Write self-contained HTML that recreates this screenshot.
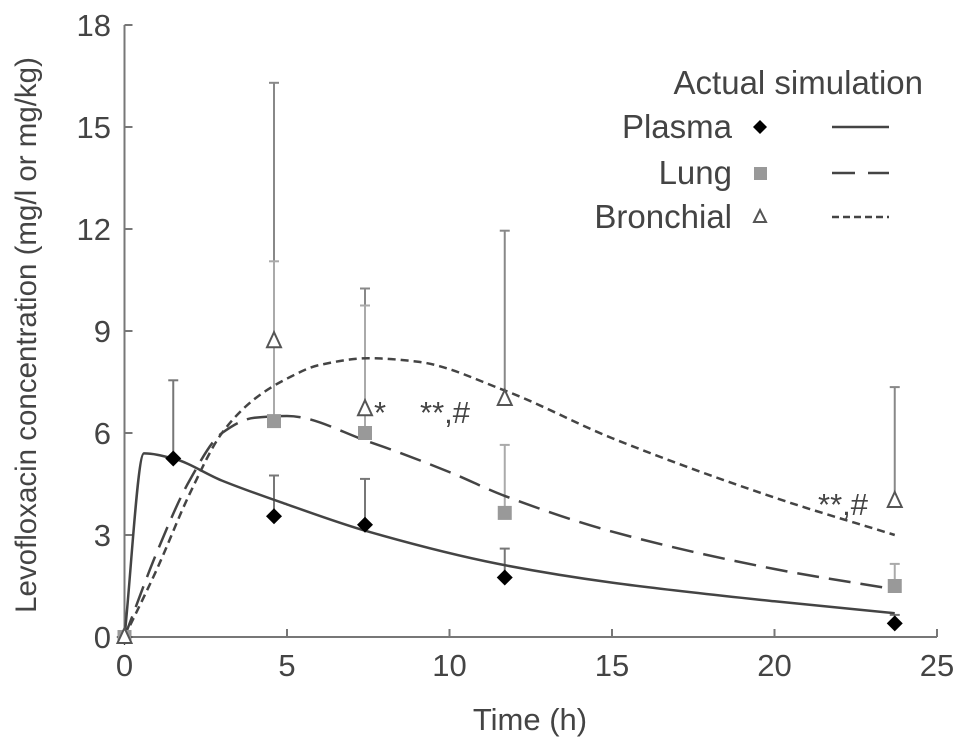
<!DOCTYPE html>
<html><head><meta charset="utf-8"><style>
body{margin:0;background:#fff}
svg text{font-family:"Liberation Sans",sans-serif;fill:#444}
</style></head><body>
<svg id="c" width="969" height="747"></svg>
<script>
const times=[0,1.5,4.6,7.4,11.7,23.7];
const plasma=[0,5.25,3.55,3.3,1.75,0.4];
const plasmaErr=[null,7.55,4.75,4.65,2.6,0.65];
const lungT=[0,4.6,7.4,11.7,23.7];
const lung=[0,6.35,6.0,3.65,1.5];
const lungErr=[null,11.05,9.75,5.65,2.15];
const bronT=[0,4.6,7.4,11.7,23.7];
const bron=[0,8.7,6.7,7.0,4.0];
const bronErr=[null,16.3,10.25,11.95,7.35];
const simT=[0,0.6,1.5,3,5,7.5,11.5,15,20,23.7];
const simPlasma=[0,5.4,5.25,4.6,3.9,3.1,2.15,1.6,1.05,0.7];
const simLungT=[0,1,2,3,4,5,7.5,10,11.7,15,20,23.7];
const simLung=[0,2.5,4.6,6.0,6.45,6.5,5.75,4.85,4.15,3.1,2.0,1.4];
const simBronT=[0,1,2,3,4,5,6,7.5,9,11.7,15,20,23.7];
const simBron=[0,2.0,4.2,6.0,7.0,7.6,8.0,8.2,8.1,7.25,5.85,4.1,3.0];
const xTicks=[0,5,10,15,20,25];
const yTicks=[0,3,6,9,12,15,18];

const svg=document.getElementById('c');
const NS='http://www.w3.org/2000/svg';
const X=t=>124.5+t*32.5;
const Y=v=>637-v*34;
function mk(tag,attrs,parent){const e=document.createElementNS(NS,tag);for(const k in attrs)e.setAttribute(k,attrs[k]);(parent||svg).appendChild(e);return e;}
let ax=mk('line',{x1:X(0),y1:Y(0),x2:X(25),y2:Y(0),stroke:'#777','stroke-width':2});


ax=mk('line',{x1:X(0),y1:Y(0),x2:X(0),y2:Y(18),stroke:'#777','stroke-width':2});


xTicks.forEach(t=>{mk('line',{x1:X(t),y1:Y(0),x2:X(t),y2:Y(0)-8,stroke:'#777','stroke-width':2});
 const tx=mk('text',{x:X(t),y:676,'text-anchor':'middle','font-size':31});tx.textContent=t;
 
 });
yTicks.forEach(v=>{mk('line',{x1:X(0),y1:Y(v),x2:X(0)+8,y2:Y(v),stroke:'#777','stroke-width':2});
 const tx=mk('text',{x:111,y:Y(v)+11,'text-anchor':'end','font-size':31});tx.textContent=v;
 
 });
let t=mk('text',{x:530,y:730,'text-anchor':'middle','font-size':31});t.textContent='Time (h)';


t=mk('text',{x:0,y:0,'text-anchor':'middle','font-size':29.5,transform:'translate(36,335) rotate(-90)'});t.textContent='Levofloxacin concentration (mg/l or mg/kg)';


function errs(ts,vals,ev,col,name){ts.forEach((tt,i)=>{if(ev[i]==null)return;
 const g=mk('g',{stroke:col,'stroke-width':2});
 
 
 mk('line',{x1:X(tt),y1:Y(vals[i]),x2:X(tt),y2:Y(ev[i])},g);
 mk('line',{x1:X(tt)-5,y1:Y(ev[i]),x2:X(tt)+5,y2:Y(ev[i])},g);});}
errs(bronT,bron,bronErr,'#888','bronchial-error-bar');
errs(lungT,lung,lungErr,'#aaa','lung-error-bar');
errs(times,plasma,plasmaErr,'#777','plasma-error-bar');
function curve(ts,vs,dash,name){
 const n=ts.length,P=ts.map((tt,i)=>[X(tt),Y(vs[i])]);
 const s=[];for(let i=0;i<n-1;i++)s.push((P[i+1][1]-P[i][1])/(P[i+1][0]-P[i][0]));
 const m=[];for(let i=0;i<n;i++){if(i==0)m.push(s[0]);else if(i==n-1)m.push(s[n-2]);
  else m.push(s[i-1]*s[i]<=0?0:2/(1/s[i-1]+1/s[i]));}
 let d='M'+P[0][0]+' '+P[0][1];
 for(let i=0;i<n-1;i++){const h=(P[i+1][0]-P[i][0])/3;
  d+=` C${P[i][0]+h} ${P[i][1]+m[i]*h} ${P[i+1][0]-h} ${P[i+1][1]-m[i+1]*h} ${P[i+1][0]} ${P[i+1][1]}`;}
 const p=mk('path',{d:d,fill:'none',stroke:'#444','stroke-width':2.5,'stroke-dasharray':dash,'stroke-linejoin':'round'});
 
 }
curve(simT,simPlasma,'none','plasma-simulation-line');
curve(simLungT,simLung,'22 10','lung-simulation-line');
curve(simBronT,simBron,'8 5','bronchial-simulation-line');
times.forEach((tt,i)=>{const m=mk('path',{d:`M${X(tt)} ${Y(plasma[i])-8}l8 8l-8 8l-8 -8z`,fill:'#000'});
 
 });
lungT.forEach((tt,i)=>{const m=mk('rect',{x:X(tt)-7,y:Y(lung[i])-7,width:14,height:14,fill:'#999'});
 
 });
bronT.forEach((tt,i)=>{const m=mk('path',{d:`M${X(tt)} ${Y(bron[i])-9}l7 15h-14z`,fill:'#fff',stroke:'#555','stroke-width':2});
 
 });
[[X(7.4)+9,Y(6.7)+14,'*'],[420,Y(6.7)+14,'**,#'],[818,Y(4.0)+14,'**,#']].forEach(a=>{
 const tx=mk('text',{x:a[0],y:a[1],'font-size':31,'font-family':'Liberation Serif',fill:'#777'});tx.textContent=a[2];
 
 });
t=mk('text',{x:923,y:94,'text-anchor':'end','font-size':33});t.textContent='Actual simulation';


[['Plasma',138,'none','legend-plasma'],['Lung',184,'23 13','legend-lung'],['Bronchial',228,'7 4','legend-bronchial']].forEach((L,i)=>{
 const g=mk('g',{});
 
 const tx=mk('text',{x:732,y:L[1],'text-anchor':'end','font-size':33},g);tx.textContent=L[0];
 const cy=L[1]-11;
 if(i==0)mk('path',{d:`M760 ${cy-7}l7 7l-7 7l-7 -7z`,fill:'#000'},g);
 if(i==1)mk('rect',{x:754,y:cy-6,width:13,height:13,fill:'#999'},g);
 if(i==2)mk('path',{d:`M760 ${cy-7}l6 12h-12z`,fill:'#fff',stroke:'#555','stroke-width':2},g);
 mk('line',{x1:832,y1:cy,x2:889,y2:cy,stroke:'#444','stroke-width':2.5,'stroke-dasharray':L[2]},g);
});
</script>
</body></html>
